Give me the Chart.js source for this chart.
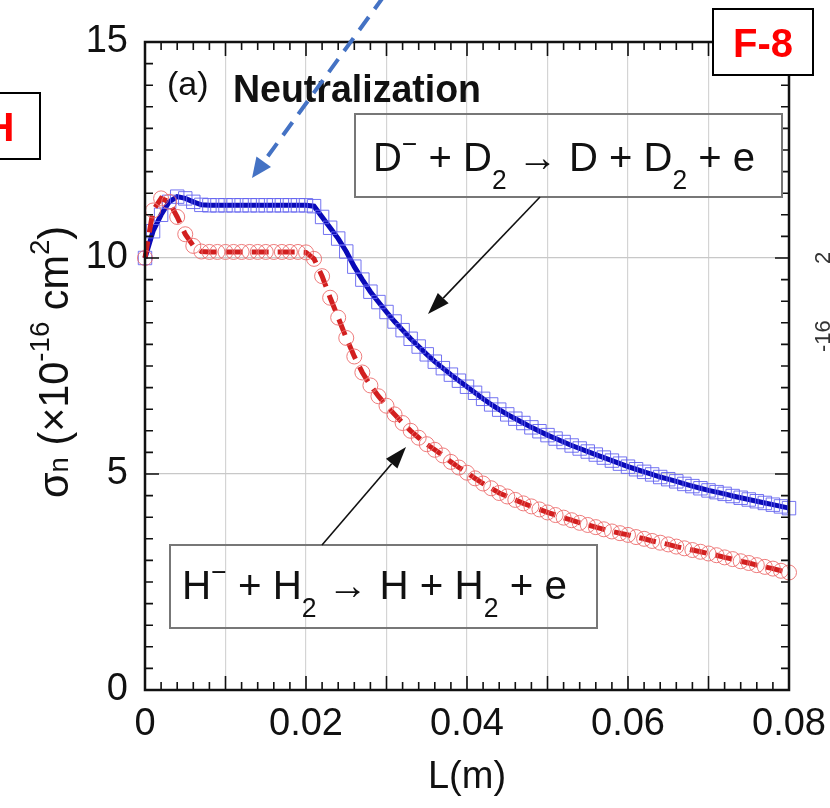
<!DOCTYPE html>
<html>
<head>
<meta charset="utf-8">
<script src="https://cdn.jsdelivr.net/npm/chart.js@4.4.1/dist/chart.umd.min.js"></script>
<style>
  html, body { margin: 0; padding: 0; background: #fff; }
  canvas { display: block; }
</style>
</head>
<body>
<canvas id="myChart" width="830" height="808"></canvas>
<script>
// L (m)
const L = [
  0, 0.001, 0.002, 0.003, 0.004, 0.005, 0.006, 0.007, 0.008, 0.009,
  0.010, 0.011, 0.012, 0.013, 0.014, 0.015, 0.016, 0.017, 0.018, 0.019,
  0.020, 0.021, 0.022, 0.023, 0.024, 0.025, 0.026, 0.027, 0.028, 0.029,
  0.030, 0.031, 0.032, 0.033, 0.034, 0.035, 0.036, 0.037, 0.038, 0.039,
  0.040, 0.041, 0.042, 0.043, 0.044, 0.045, 0.046, 0.047, 0.048, 0.049,
  0.050, 0.051, 0.052, 0.053, 0.054, 0.055, 0.056, 0.057, 0.058, 0.059,
  0.060, 0.061, 0.062, 0.063, 0.064, 0.065, 0.066, 0.067, 0.068, 0.069,
  0.070, 0.071, 0.072, 0.073, 0.074, 0.075, 0.076, 0.077, 0.078, 0.079,
  0.080
];

// D- + D2 (blue squares), x10^-16 cm^2
const sigmaD = [
  10.0, 10.62, 11.0, 11.3, 11.42, 11.38, 11.3, 11.23, 11.22, 11.22,
  11.22, 11.22, 11.22, 11.22, 11.22, 11.22, 11.22, 11.22, 11.22, 11.22,
  11.22, 11.2, 10.95, 10.7, 10.45, 10.15, 9.8, 9.5, 9.22, 8.98,
  8.75, 8.53, 8.33, 8.13, 7.95, 7.77, 7.6, 7.45, 7.3, 7.16,
  7.02, 6.88, 6.74, 6.61, 6.49, 6.38, 6.28, 6.18, 6.08, 5.99,
  5.9, 5.82, 5.74, 5.66, 5.59, 5.52, 5.45, 5.38, 5.31, 5.24,
  5.17, 5.11, 5.05, 4.99, 4.93, 4.88, 4.83, 4.77, 4.72, 4.67,
  4.62, 4.58, 4.54, 4.49, 4.45, 4.41, 4.37, 4.33, 4.29, 4.25,
  4.21
];

// H- + H2 (red circles), x10^-16 cm^2
const sigmaH = [
  10.0, 11.1, 11.38, 11.3, 10.95, 10.55, 10.28, 10.15, 10.14, 10.14,
  10.14, 10.14, 10.14, 10.14, 10.14, 10.14, 10.14, 10.14, 10.14, 10.14,
  10.13, 9.98, 9.58, 9.08, 8.62, 8.15, 7.72, 7.35, 7.05, 6.8,
  6.58, 6.38, 6.18, 6.0, 5.84, 5.69, 5.56, 5.43, 5.28, 5.15,
  5.03, 4.9, 4.78, 4.67, 4.56, 4.48, 4.4, 4.32, 4.25, 4.18,
  4.11, 4.05, 3.99, 3.93, 3.87, 3.82, 3.77, 3.72, 3.67, 3.63,
  3.59, 3.54, 3.5, 3.45, 3.41, 3.37, 3.32, 3.28, 3.24, 3.2,
  3.16, 3.12, 3.07, 3.03, 2.98, 2.94, 2.89, 2.85, 2.81, 2.76,
  2.72
];

const xTicks = [0, 0.02, 0.04, 0.06, 0.08];
const xTickLabels = ['0', '0.02', '0.04', '0.06', '0.08'];
const yTicks = [0, 5, 10, 15];

const FONT = "'Liberation Sans', Arial, sans-serif";

// draw a run of text pieces (normal / sub / sup), squeezed to a width
function drawRich(ctx, segs, x, y, width, size) {
  const fontOf = (k) => (k === 'n' ? size : Math.round(size * 0.66)) + 'px ' + FONT;
  let total = 0;
  segs.forEach((s) => {
    ctx.font = fontOf(s[1]);
    total += ctx.measureText(s[0]).width;
  });
  ctx.save();
  ctx.translate(x, y);
  ctx.scale(width / total, 1);
  let cx = 0;
  segs.forEach((s) => {
    ctx.font = fontOf(s[1]);
    const dy = s[1] === 'sub' ? size * 0.44 : s[1] === 'sup' ? -size * 0.45 : 0;
    ctx.fillText(s[0], cx, dy);
    cx += ctx.measureText(s[0]).width;
  });
  ctx.restore();
}

function arrow(ctx, x1, y1, x2, y2, color, lw, head, headW, dash) {
  const ang = Math.atan2(y2 - y1, x2 - x1);
  const bx = x2 - head * Math.cos(ang);
  const by = y2 - head * Math.sin(ang);
  ctx.save();
  ctx.strokeStyle = color;
  ctx.fillStyle = color;
  ctx.lineWidth = lw;
  ctx.setLineDash(dash || []);
  ctx.beginPath();
  ctx.moveTo(x1, y1);
  ctx.lineTo(bx, by);
  ctx.stroke();
  ctx.setLineDash([]);
  ctx.beginPath();
  ctx.moveTo(x2, y2);
  ctx.lineTo(bx + headW / 2 * Math.sin(ang), by - headW / 2 * Math.cos(ang));
  ctx.lineTo(bx - headW / 2 * Math.sin(ang), by + headW / 2 * Math.cos(ang));
  ctx.closePath();
  ctx.fill();
  ctx.restore();
}

// frame, inward ticks, labels and notes
const decorations = {
  id: 'decorations',
  afterDraw(chart) {
    const { ctx, chartArea: a, scales: { x, y } } = chart;
    ctx.save();

    // inward ticks on all four sides
    ctx.strokeStyle = '#111';
    ctx.lineWidth = 1.6;
    ctx.beginPath();
    for (let k = 0; k <= 40; k++) {
      const px = x.getPixelForValue(k * 0.002);
      const len = k % 5 === 0 ? 14 : 8;
      ctx.moveTo(px, a.bottom); ctx.lineTo(px, a.bottom - len);
      ctx.moveTo(px, a.top); ctx.lineTo(px, a.top + len);
    }
    for (let k = 0; k <= 30; k++) {
      const py = y.getPixelForValue(k * 0.5);
      const len = k % 10 === 0 ? 14 : 8;
      ctx.moveTo(a.left, py); ctx.lineTo(a.left + len, py);
      ctx.moveTo(a.right, py); ctx.lineTo(a.right - len, py);
    }
    ctx.stroke();

    ctx.lineWidth = 2.5;
    ctx.strokeRect(a.left, a.top, a.right - a.left, a.bottom - a.top);

    // panel title
    ctx.fillStyle = '#111';
    ctx.textBaseline = 'alphabetic';
    ctx.font = '34px ' + FONT;
    ctx.fillText('(a)', 167, 95, 42);
    ctx.font = 'bold 39px ' + FONT;
    ctx.fillText('Neutralization', 233, 102, 248);

    // reaction boxes
    ctx.strokeStyle = '#777';
    ctx.lineWidth = 2;
    ctx.strokeRect(355, 114, 427, 83);
    ctx.strokeRect(170, 545, 427, 83);
    ctx.fillStyle = '#111';
    drawRich(ctx, [['D', 'n'], ['\u2212', 'sup'], [' + D', 'n'], ['2', 'sub'],
      [' \u2192 D + D', 'n'], ['2', 'sub'], [' + e', 'n']], 373, 171, 382, 41);
    drawRich(ctx, [['H', 'n'], ['\u2212', 'sup'], [' + H', 'n'], ['2', 'sub'],
      [' \u2192 H + H', 'n'], ['2', 'sub'], [' + e', 'n']], 182, 599, 385, 41);

    // pointer arrows
    arrow(ctx, 540, 197, 428, 314, '#111', 1.6, 22, 15);
    arrow(ctx, 322, 545, 406, 447, '#111', 1.6, 22, 15);

    // axis titles
    ctx.font = '38px ' + FONT;
    ctx.textAlign = 'center';
    ctx.fillText('L(m)', x.getPixelForValue(0.04), 788);
    ctx.textAlign = 'left';
    ctx.save();
    ctx.translate(68, 498);
    ctx.rotate(-Math.PI / 2);
    drawRich(ctx, [['\u03c3', 'n'], ['n', 'sub2'], [' (\u00d710', 'n'], ['-16', 'sup'],
      [' cm', 'n'], ['2', 'sup'], [')', 'n']], 0, 0, 272, 42);
    ctx.restore();

    // fragments of the neighbouring panel
    ctx.save();
    ctx.fillStyle = '#333';
    ctx.font = '22px ' + FONT;
    ctx.translate(830, 352);
    ctx.rotate(-Math.PI / 2);
    ctx.fillText('-16', 0, 0);
    ctx.fillText('2', 88, 0);
    ctx.restore();

    // blue dashed pointer from above
    arrow(ctx, 384, -4, 252, 178, '#4472c4', 4, 20, 18, [16, 10]);

    // red tags
    ctx.fillStyle = '#fff';
    ctx.fillRect(713, 9, 100, 66);
    ctx.fillRect(-5, 93, 45, 66);
    ctx.strokeStyle = '#000';
    ctx.lineWidth = 2;
    ctx.strokeRect(713, 9, 100, 66);
    ctx.strokeRect(-5, 93, 45, 66);
    ctx.fillStyle = '#ff0000';
    ctx.font = 'bold 40px ' + FONT;
    ctx.textAlign = 'center';
    ctx.fillText('F-8', 763, 57);
    ctx.fillText('H', 0, 141);

    ctx.restore();
  }
};

const ctx = document.getElementById('myChart');

const myChart = new Chart(ctx, {
  type: 'line',
  data: {
    datasets: [
      {
        label: 'H- + H2',
        data: L.map((v, i) => ({ x: v, y: sigmaH[i] })),
        borderColor: '#d21f1f',
        borderWidth: 5,
        borderDash: [17, 9],
        pointStyle: 'circle',
        pointRadius: 7.5,
        pointBorderWidth: 1,
        pointBorderColor: 'rgba(236,110,110,0.9)',
        pointBackgroundColor: 'rgba(255,255,255,0)',
        tension: 0,
        clip: false,
      },
      {
        label: 'D- + D2',
        data: L.map((v, i) => ({ x: v, y: sigmaD[i] })),
        borderColor: '#0a0ab8',
        borderWidth: 5,
        pointStyle: 'rect',
        pointRadius: 9.5,
        pointBorderWidth: 1,
        pointBorderColor: 'rgba(100,100,240,0.9)',
        pointBackgroundColor: 'rgba(255,255,255,0)',
        tension: 0,
        clip: false,
      },
    ],
  },
  options: {
    responsive: false,
    animation: false,
    layout: { padding: { top: 42, right: 41, left: 0, bottom: 0 } },
    plugins: {
      legend: { display: false },
      tooltip: { enabled: false },
    },
    scales: {
      x: {
        type: 'linear',
        min: 0,
        max: 0.08,
        afterFit: (s) => { s.height = 118; s.paddingLeft = 0; s.paddingRight = 0; },
        ticks: {
          stepSize: 0.01,
          autoSkip: false,
          maxRotation: 0,
          padding: 12,
          color: '#111',
          font: { family: FONT, size: 38 },
          callback: (v) => {
            const i = xTicks.findIndex((t) => Math.abs(t - v) < 1e-9);
            return i >= 0 ? xTickLabels[i] : '';
          },
        },
        grid: { color: '#d4d4d4', lineWidth: 1.2, drawTicks: false },
        border: { display: false },
      },
      y: {
        min: 0,
        max: 15,
        afterFit: (s) => { s.width = 145; s.paddingTop = 0; s.paddingBottom = 0; },
        afterBuildTicks: (s) => { s.ticks = yTicks.map((v) => ({ value: v })); },
        ticks: {
          padding: 17,
          color: '#111',
          font: { family: FONT, size: 38 },
        },
        grid: { color: '#c8c8c8', lineWidth: 1.2, drawTicks: false },
        border: { display: false },
      },
    },
  },
  plugins: [decorations],
});
</script>
</body>
</html>
